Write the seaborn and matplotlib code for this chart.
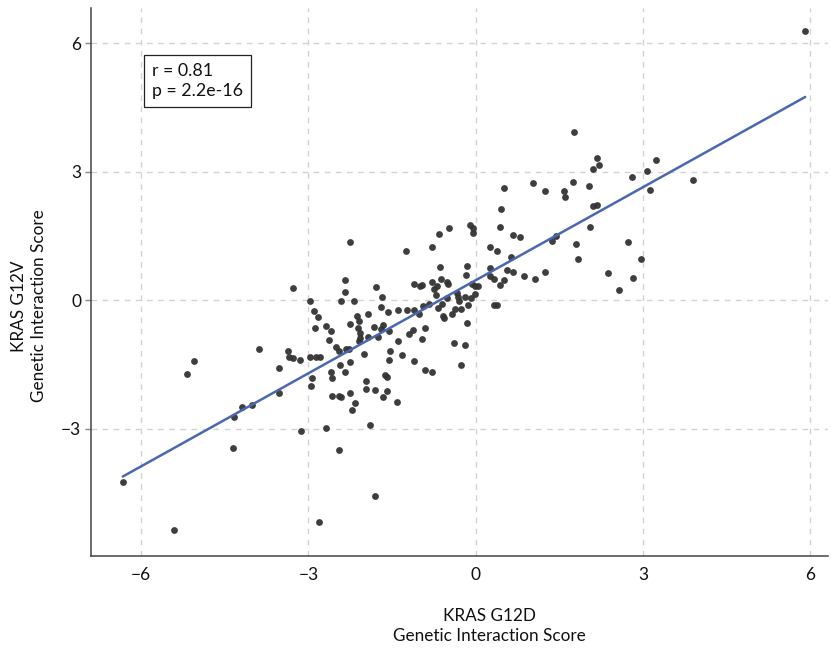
import pandas as pd
import matplotlib
matplotlib.use("Agg")
import matplotlib.pyplot as plt
import seaborn as sns

# -----------------------------------------------------------------------------
# Data (genetic interaction scores)
# -----------------------------------------------------------------------------

kras_g12d = [
    1.76, 2.18, 2.22, 2.10, 2.81, 3.08, 3.24, 3.89, 3.12, 0.51,
    1.02, 1.25, 1.58, 1.61, 1.75, 2.04, 2.10, 2.17, 0.46, 5.91,
    -3.89, -3.37, -3.34, -3.53, -5.05, -5.18, -3.53, -4.19, -4.02, -4.33,
    -4.36, -6.33, -5.41,
    -2.94, -2.96, -2.60, -2.57, -2.34, -2.58, -2.46, -2.41, -2.25, -2.17,
    -2.22, -1.96, -1.97, -1.81, -1.59, -1.62, -1.59, -1.67, -1.41, -0.91,
    -0.78, -0.26, -3.13, -2.69, -1.90, -2.45, -1.80, -2.81, -2.43,
    -0.10, -0.48, -0.66, -2.26, -1.25, -0.78, -0.15, -0.64, -2.34, -3.27,
    -1.79, -1.11, -1.00, -0.96, -0.78, -0.63, -0.51, -0.49, -0.69, -0.74,
    -0.72, -2.35, -1.68, -2.98, -2.42, -2.19, -0.33, -0.32, -0.20, -0.30,
    -0.13, -0.61, -0.51, -0.83, -0.94, -2.90, -2.82, -1.70, -1.58, -1.39,
    -1.23, -1.11, -1.02, -0.67, -0.38, -0.27, -0.42, -0.59, -0.57, -2.13,
    -1.93, -2.10, -2.26, -2.88, -2.68, -2.59, -2.12, -2.07, -1.83, -1.66,
    -1.70, -1.55, -1.13, -1.19, -0.91, -0.15, -1.94, -1.75, -2.08, -2.10,
    -2.64, -1.40, -0.97, -0.39, -0.19, -2.51, -2.45, -2.32, -2.27, -3.27,
    -3.15, -2.97, -2.86, -2.79, -2.01, -1.53, -1.33, -1.56, -1.11, -2.26,
    -0.05, -0.04, 0.44, 0.67, 0.79, 0.26, 0.38, 1.37, 1.44, 1.80,
    2.05, 1.83, 2.73, 2.96, 2.38, 2.82, 2.57, 0.64, -0.17, 0.25,
    0.25, 0.32, 0.57, 0.67, 0.51, 0.44, 0.87, 1.06, 1.25, -0.07,
    -0.01, 0.04, -0.08, -0.02, 0.32, 0.39,
]

kras_g12v = [
    3.94, 3.33, 3.17, 3.06, 2.88, 3.01, 3.27, 2.81, 2.57, 2.63,
    2.74, 2.56, 2.56, 2.41, 2.76, 2.67, 2.20, 2.23, 2.14, 6.29,
    -1.15, -1.19, -1.34, -1.59, -1.43, -1.72, -2.16, -2.50, -2.46, -2.73,
    -3.45, -4.24, -5.38,
    -1.82, -2.01, -1.69, -1.82, -1.68, -2.24, -2.24, -2.27, -2.17, -2.40,
    -2.56, -1.90, -2.08, -2.10, -1.80, -1.76, -2.12, -2.26, -2.38, -1.63,
    -1.67, -1.52, -3.06, -2.99, -2.92, -3.51, -4.58, -5.18, -1.51,
    1.75, 1.68, 1.55, 1.37, 1.15, 1.24, 0.79, 0.77, 0.47, 0.28,
    0.31, 0.38, 0.32, 0.36, 0.43, 0.50, 0.43, 0.37, 0.32, 0.26,
    0.13, 0.19, 0.07, -0.01, -0.02, -0.03, 0.17, 0.08, 0.07, -0.02,
    -0.12, -0.08, 0.05, -0.09, -0.14, -0.26, -0.39, -0.16, -0.27, -0.22,
    -0.23, -0.24, -0.32, -0.19, -0.21, -0.20, -0.33, -0.36, -0.41, -0.36,
    -0.33, -0.49, -0.55, -0.65, -0.61, -0.72, -0.64, -0.77, -0.62, -0.59,
    -0.67, -0.73, -0.69, -0.78, -0.65, -0.54, -0.87, -0.86, -0.88, -0.96,
    -0.94, -0.95, -0.90, -0.99, -1.04, -1.10, -1.18, -1.14, -1.14, -1.36,
    -1.41, -1.33, -1.34, -1.34, -1.26, -1.19, -1.28, -1.40, -1.42, -1.45,
    1.68, 1.58, 1.70, 1.52, 1.48, 1.24, 1.15, 1.39, 1.50, 1.32,
    1.72, 0.96, 1.36, 0.97, 0.63, 0.51, 0.23, 1.00, 0.59, 0.76,
    0.56, 0.49, 0.70, 0.65, 0.47, 0.35, 0.56, 0.50, 0.65, 0.37,
    0.33, 0.33, 0.05, 0.14, -0.12, -0.12,
]

x_ticks = [-6, -3, 0, 3, 6]
y_ticks = [-3, 0, 3, 6]
stats_text = "r = 0.81\np = 2.2e-16"

df = pd.DataFrame({"g12d": kras_g12d, "g12v": kras_g12v})

# -----------------------------------------------------------------------------
# Plotting attributes
# -----------------------------------------------------------------------------

sns.set_theme(style="white")
plt.rcParams["font.family"] = ["Lato", "DejaVu Sans"]
plt.rcParams["axes.unicode_minus"] = True

grid_col = "#d2d2d2"
spine_col = "#444444"

# -----------------------------------------------------------------------------
# Plot
# -----------------------------------------------------------------------------

fig = plt.figure(figsize=(8.31, 6.49), dpi=100)
ax = fig.add_axes([0.1095, 0.1433, 0.887, 0.8444])

sns.regplot(x="g12d", y="g12v", data=df, ci=None, ax=ax,
            scatter_kws=dict(s=24, color="#333333", alpha=0.95, linewidths=0),
            line_kws=dict(color="#4a67b0", lw=1.8))

ax.set_xlim(-6.9, 6.32)
ax.set_ylim(-5.98, 6.83)
ax.set_xticks(x_ticks)
ax.set_yticks(y_ticks)
ax.grid(True, ls=(0, (4, 4)), color=grid_col, lw=1)
ax.set_axisbelow(True)

for s in ["top", "right"]:
    ax.spines[s].set_visible(False)
for s in ["left", "bottom"]:
    ax.spines[s].set_color(spine_col)
    ax.spines[s].set_linewidth(1.1)

ax.tick_params(axis="x", length=0, pad=8, labelsize=12.5, labelcolor="#111111")
ax.tick_params(axis="y", length=4, width=1, color="#888888", pad=3,
               labelsize=12.5, labelcolor="#111111", left=True)

ax.set_xlabel("KRAS G12D\nGenetic Interaction Score", fontsize=12.3,
              linespacing=1.3, va="center", color="#111111")
ax.xaxis.set_label_coords(0.541, -0.127)
ax.set_ylabel("KRAS G12V\nGenetic Interaction Score", fontsize=12.3,
              linespacing=1.3, va="center", color="#111111")
ax.yaxis.set_label_coords(-0.084, 0.456)

ax.text(0.083, 0.9, stats_text, transform=ax.transAxes, ha="left", va="top",
        fontsize=12.8, linespacing=1.35, color="#111111",
        bbox=dict(boxstyle="square,pad=0.45", fc="white", ec="#222222", lw=0.9))

plt.savefig("out.png", dpi=100)
